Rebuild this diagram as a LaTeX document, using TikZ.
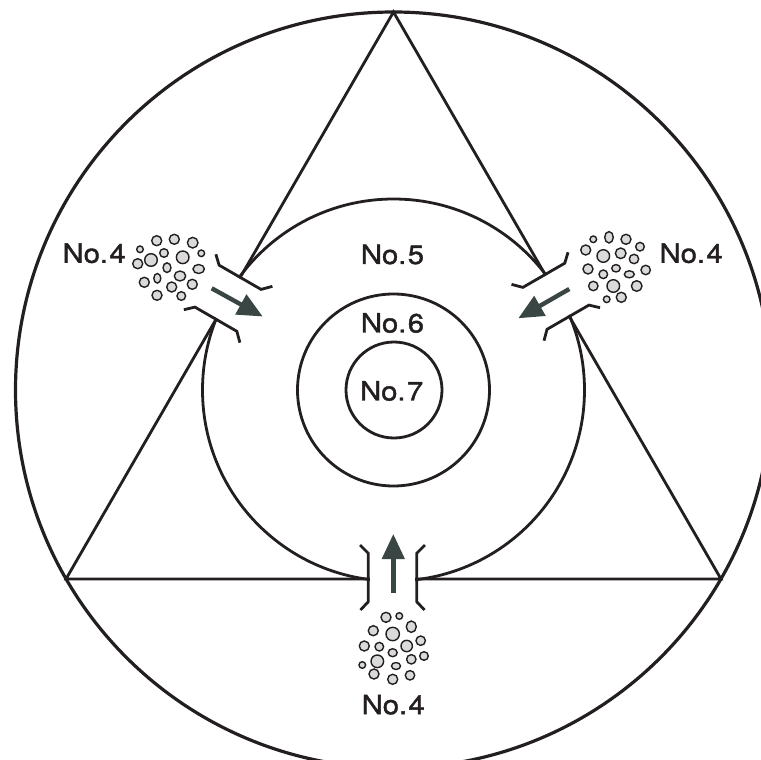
\documentclass[tikz,border=0pt]{standalone}
\usepackage{fontspec}
\setmainfont{TeX Gyre Heros}[FakeStretch=1.1,FakeBold=1.5]
\usetikzlibrary{arrows.meta}
\definecolor{ink}{HTML}{231F20}
\definecolor{arrowc}{HTML}{3A4644}
\definecolor{grain}{HTML}{DADADA}
\tikzset{
  lbl/.style={font=\fontsize{26.5}{30}\selectfont, text=ink, inner sep=0pt},
  ln/.style={draw=ink, line width=2.8pt, line join=miter},
  grainst/.style={draw=ink, fill=grain, line width=1.4pt},
  flow/.style={draw=arrowc, line width=4.4pt, -{Triangle[length=25pt,width=22pt]}},
  pics/inlet/.style={code={
     \fill[white] (-22.8,-21) rectangle (22.8,20);
     \draw[ln] (-32.5,-34) -- (-24.2,-25.7) -- (-24.2,22.7) -- (-32,31);
     \draw[ln] (32.5,-34) -- (24.2,-25.7) -- (24.2,22.7) -- (32,31);
  }}
}
\newcommand{\nolabel}[1]{No.\kern1.5pt#1}
\begin{document}
\begin{tikzpicture}[x=1pt,y=-1pt]
\useasboundingbox (0,0) rectangle (761,760);
\clip (0,0) rectangle (761,760);
% outer circle and triangle
\draw[ln, line width=3.2pt] (393.5,390) circle[radius=378];
\coordinate (apex) at (393.5,12);
\coordinate (bl) at (66,579);
\coordinate (br) at (721,579);
\draw[ln] (apex) -- (bl) -- (br) -- cycle;
% concentric circles
\draw[ln] (393.5,390) circle[radius=191];
\draw[ln] (393.5,390) circle[radius=96];
\draw[ln] (394,390) circle[radius=48];
% inlets
\pic at (392.5,579) {inlet};
\pic[rotate=-120] at (226.7,297.5) {inlet};
\pic[rotate=120] at (557.2,295.5) {inlet};
% arrows
\coordinate (tb) at (393.3,592.7); \coordinate (hb) at (393.3,534);
\coordinate (tl) at (211.7,288.3); \coordinate (hl) at (262.7,316.5);
\coordinate (tr) at (569.3,289);   \coordinate (hr) at (518.3,318.3);
\draw[flow] (tb) -- (hb);
\draw[flow] (tl) -- (hl);
\draw[flow] (tr) -- (hr);
% particles
\foreach \x/\y/\a/\b in {
  386/617.3/5/5, 399.3/616/3.3/3.3, 373.3/630.7/5/5, 392.7/634/6.7/6.7,
  411.3/626.7/5/5.7, 364.3/646/5/5, 379.3/646.7/4.3/4.3, 392.7/652.7/4.5/4,
  406.7/646/5.7/5.7, 420.7/640.7/4.7/4.7, 377.3/661.3/6.3/6.3, 362.3/665/3.3/3.3,
  396/666/4.5/3.5, 411.3/659.3/4.7/4.7, 424/656/4.3/4.3, 374/674/5/5,
  392.7/679.3/5/5, 410/675.3/4.7/4.7,
  140/249.3/3.3/3.3, 156.7/240.7/5/5, 174.3/239.3/5/5, 192.7/242.7/5.3/5.3,
  164/253/4.3/4.3, 151/260/6.3/6.3, 137.7/263.7/5/5, 182.7/257.3/6.3/6.3,
  201.3/253.3/3.3/3.3, 167/267.7/4/4.8, 198.7/269/5.7/4.5, 180/276/5.7/5,
  157.3/278.3/3.5/4.8, 144.3/282.3/5/5, 192.3/284.3/5/5, 171.7/287/5/5,
  157/295.3/5/5, 181.3/296/4.3/4.3,
  593.3/239.3/3.3/3.3, 609/237.3/4.3/5.7, 626/239.3/5/5, 640/246.7/4.3/4.3,
  585.7/250/5/5, 603.3/256/6.3/6.3, 620.7/253.3/5.3/5.3, 634/259/4.7/4.7,
  588/269/5/5, 603.3/274.3/4.3/4.3, 616/268.3/4.3/3.7, 629.3/274.3/5/3.5,
  645.7/270/4.7/4.7, 593.3/286/4.7/4.7, 613.3/286/6.3/6.3, 636.7/286/5.3/5.3,
  606.7/299.3/3.3/3.3, 621.3/297.3/5/5}
  \draw[grainst] (\x,\y) ellipse[x radius=\a, y radius=\b];
% labels
\node[lbl] (n5) at (392.5,254.5) {\nolabel{5}};
\node[lbl] (n6) at (392.5,323) {\nolabel{6}};
\node[lbl] (n7) at (391.7,391) {\nolabel{7}};
\node[lbl] (n4l) at (94.2,253.3) {\nolabel{4}};
\node[lbl] (n4r) at (691.2,253.3) {\nolabel{4}};
\node[lbl] (n4b) at (393.3,704.7) {\nolabel{4}};
\end{tikzpicture}
\end{document}
